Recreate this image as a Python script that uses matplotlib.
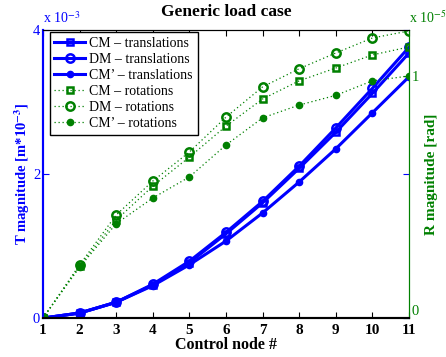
import numpy as np
import matplotlib
matplotlib.use('Agg')
import matplotlib.pyplot as plt

plt.rcParams['font.family'] = ['Liberation Serif', 'DejaVu Serif']
plt.rcParams['mathtext.fontset'] = 'stix'

# control nodes
nodes = np.arange(1, 12)

# translations, in 1e-3 units (left axis)
cm_trans = [0, 0.07, 0.22, 0.46, 0.77, 1.17, 1.60, 2.08, 2.58, 3.12, 3.68]
dm_trans = [0, 0.07, 0.22, 0.47, 0.79, 1.19, 1.62, 2.11, 2.64, 3.19, 3.76]
cmp_trans = [0, 0.07, 0.22, 0.45, 0.74, 1.07, 1.46, 1.89, 2.35, 2.85, 3.35]

# rotations, in 1e-5 units (right axis)
cm_rot = [0, 0.215, 0.405, 0.545, 0.665, 0.793, 0.905, 0.98, 1.033, 1.087, 1.12]
dm_rot = [0, 0.22, 0.426, 0.566, 0.686, 0.83, 0.955, 1.03, 1.095, 1.157, 1.186]
cmp_rot = [0, 0.21, 0.39, 0.496, 0.583, 0.715, 0.827, 0.88, 0.92, 0.98, 1.0]

blue = '#0000ff'
green = '#008000'

fig = plt.figure(figsize=(4.46, 3.57), dpi=100)
ax = fig.add_axes([0.0964, 0.109, 0.8206, 0.807])
ax2 = ax.twinx()

l1, = ax.plot(nodes, cm_trans, '-', color=blue, lw=2.2, marker='s', ms=5, mfc='none', mew=1.8)
l2, = ax.plot(nodes, dm_trans, '-', color=blue, lw=2.2, marker='o', ms=6, mfc='none', mew=1.8)
l3, = ax.plot(nodes, cmp_trans, '-', color=blue, lw=2.2, marker='o', ms=4.5, mfc=blue)

dots = (0, (1, 2.2))
l4, = ax2.plot(nodes, cm_rot, linestyle=dots, color=green, lw=0.9, marker='s', ms=5, mfc='none', mew=1.8)
l5, = ax2.plot(nodes, dm_rot, linestyle=dots, color=green, lw=0.9, marker='o', ms=6, mfc='none', mew=1.8)
l6, = ax2.plot(nodes, cmp_rot, linestyle=dots, color=green, lw=0.9, marker='o', ms=4.5, mfc=green)

ax.set_xlim(1, 11)
ax.set_ylim(0, 4)
ax2.set_ylim(0, 1.19)
ax.set_xticks(nodes)
ax.set_yticks([0, 2, 4])
ax2.set_yticks([0, 1])

ax.tick_params(axis='x', direction='in', top=True, labelsize=11, colors='black', length=4, pad=4)
for t in ax.get_xticklabels():
    t.set_fontweight('bold')
ax.tick_params(axis='y', direction='in', right=True, labelsize=10.5, colors=blue, length=4, pad=2)
ax2.tick_params(axis='y', direction='in', labelsize=10.5, colors=green, length=4, pad=2)
# lift the right-hand "0" a bit so it clears the "11"
ax2.yaxis.get_major_ticks()[0].label2.set_verticalalignment('bottom')

for a in (ax, ax2):
    a.spines['left'].set_color(blue)
    a.spines['right'].set_color(green)
    a.spines['top'].set_color('black')
    a.spines['bottom'].set_color('black')
    a.spines['left'].set_linewidth(1.5)
    a.spines['bottom'].set_linewidth(1.5)

ax.set_xlabel('Control node #', fontsize=11.5, fontweight='bold', labelpad=0)
ax.set_ylabel('T magnitude [m*10$^{\\mathbf{-3}}$]', fontsize=10.5, fontweight='bold', color=blue, labelpad=1)
ax2.set_ylabel('R magnitude [rad]', fontsize=11, fontweight='bold', color=green, labelpad=4)
ax.set_title('Generic load case', fontsize=12.5, fontweight='bold', pad=10)

ax.text(0.0, 1.015, 'x 10$^{-3}$', transform=ax.transAxes, color=blue, fontsize=10, ha='left', va='bottom')
ax2.text(1.0, 1.015, 'x 10$^{-5}$', transform=ax2.transAxes, color=green, fontsize=10, ha='left', va='bottom')

handles = [l1, l2, l3, l4, l5, l6]
labels = ['CM \u2013 translations', 'DM \u2013 translations', 'CM\u2019 \u2013 translations',
          'CM \u2013 rotations', 'DM \u2013 rotations', 'CM\u2019 \u2013 rotations']
leg = ax2.legend(handles, labels, loc='upper left', bbox_to_anchor=(0.018, 0.993), fontsize=10,
                 fancybox=False, framealpha=1, edgecolor='black', borderpad=0.35,
                 labelspacing=0.22, handlelength=2.2, handletextpad=0.3, borderaxespad=0)
leg.get_frame().set_linewidth(1.0)

fig.savefig('out.png', dpi=100)
